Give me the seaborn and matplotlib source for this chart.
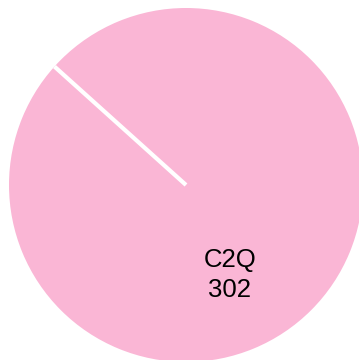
import numpy as np
import matplotlib
matplotlib.use("Agg")
import matplotlib.pyplot as plt
import seaborn as sns

# 資料
categories = ["C2Q"]
counts = [302]
slice_colors = ["#fab6d5"]

sns.set_style("white")
plt.rcParams['font.family'] = ['Liberation Sans', 'DejaVu Sans']

W, H = 359, 360
fig = plt.figure(figsize=(W / 100, H / 100), dpi=100)
ax = fig.add_axes([0, 0, 1, 1])

wedges, _ = ax.pie(counts, colors=slice_colors, startangle=138, counterclock=True,
                   radius=1.0, wedgeprops=dict(linewidth=0))

# 單一扇區時 matplotlib 不畫半徑邊線，自行補上
for w in wedges:
    t = np.deg2rad(w.theta1)
    ax.plot([w.center[0], w.center[0] + w.r * np.cos(t)],
            [w.center[1], w.center[1] + w.r * np.sin(t)],
            color="white", linewidth=3, solid_capstyle="butt")

# 圓心與半徑（像素）
cx, cy, r = 186, 175, 177
ax.set_xlim(-cx / r, (W - cx) / r)
ax.set_ylim(-cy / r, (H - cy) / r)
ax.set_aspect('auto')
ax.axis('off')

# 標籤
ang = np.deg2rad(-64)
for name, val in zip(categories, counts):
    ax.text(0.565 * np.cos(ang), 0.565 * np.sin(ang), f"{name}\n{val}",
            ha='center', va='center', fontsize=18.5, color='black', linespacing=1.3)

fig.savefig("out.png", dpi=100)
